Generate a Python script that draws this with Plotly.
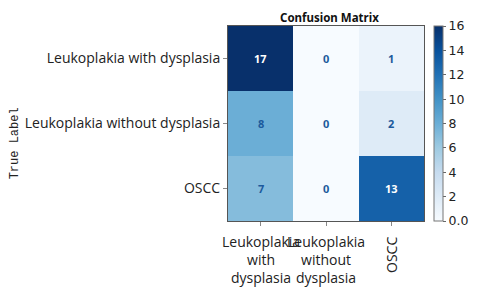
import plotly.graph_objects as go
import plotly.express as px

true_labels = ["Leukoplakia with dysplasia", "Leukoplakia without dysplasia", "OSCC"]
pred_labels = ["Leukoplakia<br>with<br>dysplasia", "Leukoplakia<br>without<br>dysplasia", "OSCC"]
matrix = [
    [17, 0, 1],
    [8, 0, 2],
    [7, 0, 13],
]
cbar_vals = [0, 2, 4, 6, 8, 10, 12, 14, 16]
cbar_text = ["0.0", "2", "4", "6", "8", "10", "12", "14", "16"]

blues = px.colors.sequential.Blues
n = len(true_labels)
idx = list(range(n))

fig = go.Figure(go.Heatmap(
    z=matrix, x=idx, y=idx, zmin=0, zmax=16,
    colorscale=[[i / (len(blues) - 1), c] for i, c in enumerate(blues)],
    xgap=0, ygap=0,
    colorbar=dict(
        x=1.051, xanchor="left", xref="paper", y=0.5, yanchor="middle",
        len=1.0, lenmode="fraction", thickness=9, xpad=0, ypad=0,
        outlinecolor="#777", outlinewidth=1,
        tickvals=cbar_vals, ticktext=cbar_text, ticks="outside", ticklen=3,
        tickcolor="#666", tickfont=dict(family="DejaVu Sans", size=12.5, color="#222"),
    ),
    hoverinfo="skip",
))

anns = []
for r in range(n):
    for c in range(n):
        v = matrix[r][c]
        anns.append(dict(
            x=c, y=r, xref="x", yref="y", text=f"<b>{v}</b>", showarrow=False,
            font=dict(family="Noto Sans", size=11, color="white" if v > 10 else "#1c5a9c"),
        ))

for c, lab in enumerate(pred_labels):
    if lab == "OSCC":
        anns.append(dict(x=c, y=-0.07, xref="x", yref="paper", text=lab, showarrow=False,
                         textangle=-90, yanchor="top", xanchor="center",
                         font=dict(family="Open Sans", size=14, color="#222")))
    else:
        anns.append(dict(x=c, y=-0.045, xref="x", yref="paper", text=lab, showarrow=False,
                         yanchor="top", xanchor="center",
                         font=dict(family="Open Sans", size=14, color="#222")))

anns.append(dict(x=-1.085, y=0.4, xref="paper", yref="paper", text="True Label",
                 showarrow=False, textangle=-90, xanchor="center", yanchor="middle",
                 font=dict(family="Liberation Mono", size=12, color="#222")))
anns.append(dict(x=0.52, y=1.0, xref="paper", yref="paper", text="<b>Confusion Matrix</b>",
                 showarrow=False, xanchor="center", yanchor="bottom", yshift=-1,
                 font=dict(family="Noto Sans", size=11.5, color="#111")))

fig.update_layout(
    width=470, height=284,
    margin=dict(l=220, r=54, t=18, b=71, autoexpand=False),
    paper_bgcolor="white", plot_bgcolor="white",
    annotations=anns,
    xaxis=dict(range=[-0.5, 2.5], tickvals=idx, ticktext=["", "", ""], ticks="outside",
               ticklen=4, tickcolor="#888", showgrid=False, zeroline=False,
               showline=True, linecolor="#555", linewidth=1, mirror=True),
    yaxis=dict(range=[2.5, -0.5], tickvals=idx, ticktext=true_labels, ticks="outside",
               ticklen=4, tickcolor="#888", showgrid=False, zeroline=False,
               showline=True, linecolor="#555", linewidth=1, mirror=True,
               tickfont=dict(family="Open Sans", size=14, color="#222")),
)

fig.write_html("out.html")
